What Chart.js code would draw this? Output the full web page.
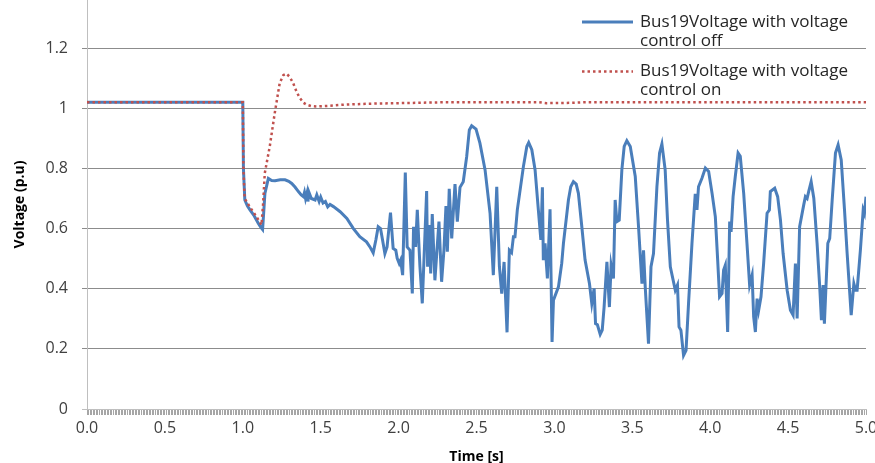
<!DOCTYPE html>
<html>
<head>
<meta charset="utf-8">
<script src="https://cdn.jsdelivr.net/npm/chart.js@4.4.1/dist/chart.umd.min.js"></script>
<style>
    html, body { margin: 0; padding: 0; background: #fff; }
    #wrap { width: 875px; height: 463px; }
</style>
</head>
<body>
<div id="wrap"><canvas id="voltageChart" width="875" height="463"></canvas></div>
<script>
// [time s, voltage p.u]
const offSeries = [
    [0, 1.02], [1.0, 1.02], [1.004, 0.80], [1.013, 0.695], [1.03, 0.675], [1.046, 0.662], [1.07, 0.645],
    [1.10, 0.617], [1.115, 0.605], [1.127, 0.597], [1.135, 0.66], [1.142, 0.717], [1.164, 0.767],
    [1.185, 0.76], [1.207, 0.759], [1.24, 0.762], [1.271, 0.762], [1.295, 0.757], [1.314, 0.75],
    [1.335, 0.738], [1.357, 0.723], [1.375, 0.712], [1.389, 0.706], [1.396, 0.72], [1.403, 0.70],
    [1.413, 0.72], [1.418, 0.69], [1.425, 0.72], [1.44, 0.70], [1.464, 0.695], [1.475, 0.712],
    [1.49, 0.69], [1.50, 0.705], [1.515, 0.685], [1.53, 0.69], [1.545, 0.672], [1.56, 0.68],
    [1.582, 0.673], [1.625, 0.656], [1.668, 0.634], [1.71, 0.60], [1.751, 0.573], [1.794, 0.556],
    [1.816, 0.539], [1.837, 0.519], [1.854, 0.562], [1.869, 0.606], [1.884, 0.60], [1.897, 0.562],
    [1.912, 0.517], [1.926, 0.539], [1.948, 0.653], [1.965, 0.534], [1.982, 0.528], [1.991, 0.501],
    [2.004, 0.484], [2.013, 0.495], [2.026, 0.445], [2.043, 0.786], [2.055, 0.539], [2.073, 0.528],
    [2.088, 0.384], [2.096, 0.606], [2.109, 0.539], [2.12, 0.662], [2.137, 0.473], [2.152, 0.351],
    [2.18, 0.725], [2.186, 0.473], [2.197, 0.612], [2.206, 0.451], [2.216, 0.648], [2.233, 0.428],
    [2.259, 0.623], [2.276, 0.423], [2.291, 0.528], [2.304, 0.675], [2.313, 0.523], [2.325, 0.732],
    [2.341, 0.567], [2.362, 0.748], [2.377, 0.623], [2.394, 0.737], [2.415, 0.756], [2.437, 0.839],
    [2.454, 0.928], [2.469, 0.942], [2.497, 0.931], [2.522, 0.884], [2.555, 0.795], [2.587, 0.651],
    [2.608, 0.445], [2.63, 0.739], [2.647, 0.473], [2.662, 0.384], [2.677, 0.489], [2.696, 0.255],
    [2.711, 0.528], [2.725, 0.52], [2.737, 0.573], [2.747, 0.573], [2.762, 0.662], [2.801, 0.806],
    [2.823, 0.873], [2.835, 0.886], [2.855, 0.862], [2.876, 0.795], [2.897, 0.662], [2.913, 0.562],
    [2.923, 0.737], [2.929, 0.495], [2.94, 0.551], [2.955, 0.434], [2.972, 0.664], [2.985, 0.223],
    [2.994, 0.362], [3.026, 0.406], [3.047, 0.484], [3.058, 0.551], [3.09, 0.695], [3.105, 0.739],
    [3.122, 0.756], [3.14, 0.748], [3.154, 0.717], [3.176, 0.606], [3.197, 0.495], [3.225, 0.417],
    [3.24, 0.351], [3.255, 0.401], [3.264, 0.284], [3.276, 0.28], [3.294, 0.248], [3.307, 0.262],
    [3.319, 0.339], [3.337, 0.489], [3.353, 0.339], [3.364, 0.478], [3.379, 0.434], [3.39, 0.695],
    [3.401, 0.623], [3.416, 0.628], [3.433, 0.795], [3.448, 0.873], [3.465, 0.892], [3.487, 0.873],
    [3.519, 0.773], [3.54, 0.606], [3.562, 0.417], [3.572, 0.528], [3.583, 0.406], [3.604, 0.217],
    [3.62, 0.473], [3.636, 0.517], [3.658, 0.739], [3.675, 0.851], [3.69, 0.881], [3.711, 0.795],
    [3.726, 0.628], [3.744, 0.473], [3.776, 0.395], [3.79, 0.412], [3.8, 0.273], [3.812, 0.262],
    [3.829, 0.178], [3.845, 0.195], [3.861, 0.351], [3.883, 0.551], [3.904, 0.715], [3.915, 0.662],
    [3.925, 0.739], [3.947, 0.767], [3.969, 0.801], [3.99, 0.79], [4.012, 0.717], [4.033, 0.639],
    [4.048, 0.495], [4.06, 0.373], [4.076, 0.384], [4.086, 0.462], [4.097, 0.478], [4.112, 0.256],
    [4.125, 0.623], [4.134, 0.589], [4.147, 0.706], [4.161, 0.773], [4.179, 0.851], [4.193, 0.84],
    [4.215, 0.717], [4.236, 0.551], [4.253, 0.412], [4.269, 0.445], [4.279, 0.306], [4.29, 0.256],
    [4.301, 0.367], [4.311, 0.328], [4.326, 0.373], [4.343, 0.484], [4.365, 0.651], [4.38, 0.662],
    [4.386, 0.723], [4.414, 0.734], [4.433, 0.706], [4.451, 0.628], [4.468, 0.517], [4.494, 0.395],
    [4.515, 0.328], [4.532, 0.312], [4.547, 0.484], [4.558, 0.301], [4.574, 0.606], [4.6, 0.678],
    [4.611, 0.706], [4.622, 0.70], [4.632, 0.723], [4.648, 0.756], [4.665, 0.701], [4.686, 0.551],
    [4.703, 0.406], [4.714, 0.295], [4.725, 0.412], [4.733, 0.284], [4.755, 0.551], [4.767, 0.567],
    [4.783, 0.695], [4.804, 0.851], [4.821, 0.878], [4.841, 0.828], [4.862, 0.662], [4.879, 0.517],
    [4.905, 0.312], [4.922, 0.417], [4.933, 0.395], [4.943, 0.395], [4.964, 0.528], [4.982, 0.662],
    [4.99, 0.65], [5.0, 0.706]
];

const onSeries = [
    [0, 1.02], [1.0, 1.02], [1.004, 0.80], [1.012, 0.70], [1.044, 0.673], [1.087, 0.64], [1.12, 0.612],
    [1.13, 0.68], [1.141, 0.784], [1.173, 0.873], [1.205, 0.984], [1.237, 1.084], [1.26, 1.11],
    [1.28, 1.115], [1.30, 1.105], [1.323, 1.084], [1.345, 1.055], [1.366, 1.034], [1.39, 1.018],
    [1.409, 1.012], [1.44, 1.007], [1.473, 1.006], [1.55, 1.008], [1.65, 1.012], [1.8, 1.015],
    [2.0, 1.017], [2.3, 1.02], [2.9, 1.02], [2.95, 1.017], [3.1, 1.018], [3.2, 1.02], [5.0, 1.02]
];

const seriesLabels = ['Bus19Voltage with voltage control off', 'Bus19Voltage with voltage control on'];
const yTicks = [0, 0.2, 0.4, 0.6, 0.8, 1, 1.2];
const yTickLabels = ['0', '0.2', '0.4', '0.6', '0.8', '1', '1.2'];
const xTickLabels = ['0.0', '0.5', '1.0', '1.5', '2.0', '2.5', '3.0', '3.5', '4.0', '4.5', '5.0'];
const xMinorStep = 0.01;

const toPoints = rows => rows.map(([x, y]) => ({ x, y }));

function wrapText(ctx, text, maxWidth) {
    const lines = [];
    let line = '';
    text.split(' ').forEach(word => {
        const test = line ? line + ' ' + word : word;
        if (ctx.measureText(test).width > maxWidth && line) {
            lines.push(line);
            line = word;
        } else {
            line = test;
        }
    });
    lines.push(line);
    return lines;
}

// legend sits inside the plot, labels wrap to two lines
const wrappedLegend = {
    id: 'wrappedLegend',
    afterDraw(chart) {
        const ctx = chart.ctx;
        ctx.save();
        ctx.font = '17px "Open Sans"';
        ctx.textBaseline = 'middle';
        chart.data.datasets.forEach((ds, i) => {
            const y = 22 + i * 49.5;
            ctx.strokeStyle = ds.borderColor;
            ctx.lineWidth = ds.borderWidth;
            ctx.setLineDash(ds.borderDash || []);
            ctx.beginPath();
            ctx.moveTo(582, y);
            ctx.lineTo(633, y);
            ctx.stroke();
            ctx.setLineDash([]);
            ctx.fillStyle = '#262626';
            wrapText(ctx, ds.label, 222).forEach((line, j) => ctx.fillText(line, 640, y + j * 19));
        });
        ctx.restore();
    }
};

new Chart(document.getElementById('voltageChart'), {
    type: 'line',
    data: {
        datasets: [{
            label: seriesLabels[0],
            data: toPoints(offSeries),
            borderColor: '#4a7ebb',
            borderWidth: 3,
            pointRadius: 0,
            tension: 0,
            order: 1
        }, {
            label: seriesLabels[1],
            data: toPoints(onSeries),
            borderColor: '#c0504d',
            borderWidth: 2.5,
            borderDash: [2.5, 3],
            pointRadius: 0,
            tension: 0,
            order: 0
        }]
    },
    options: {
        responsive: false,
        animation: false,
        devicePixelRatio: 1,
        layout: { padding: { top: 0, right: 9, left: 0, bottom: 0 } },
        plugins: {
            legend: { display: false },
            tooltip: { enabled: false }
        },
        scales: {
            x: {
                type: 'linear',
                min: 0,
                max: 5,
                afterBuildTicks: axis => {
                    const n = Math.round(5 / xMinorStep);
                    axis.ticks = Array.from({ length: n + 1 }, (_, i) => ({ value: i * xMinorStep }));
                },
                afterFit: axis => {
                    axis.height = 54;
                    axis.paddingLeft = 0;
                    axis.paddingRight = 0;
                },
                ticks: {
                    autoSkip: false,
                    maxRotation: 0,
                    minRotation: 0,
                    padding: 4,
                    color: '#404040',
                    font: { family: 'Open Sans', size: 16 },
                    callback: value => {
                        const k = Math.round(value / xMinorStep);
                        return k % 50 === 0 ? xTickLabels[k / 50] : '';
                    }
                },
                grid: {
                    drawOnChartArea: false,
                    drawTicks: true,
                    tickLength: 6,
                    tickColor: '#a6a6a6'
                },
                border: { color: '#bfbfbf' },
                title: {
                    display: true,
                    text: 'Time [s]',
                    color: '#000',
                    font: { family: 'Open Sans', size: 14, weight: 'bold', lineHeight: 0.86 },
                    padding: { top: 0, bottom: 0 }
                }
            },
            y: {
                min: 0,
                max: 1.36,
                afterBuildTicks: axis => {
                    axis.ticks = yTicks.map(v => ({ value: v }));
                },
                afterFit: axis => {
                    axis.width = 87;
                    axis.paddingTop = 0;
                    axis.paddingBottom = 0;
                },
                ticks: {
                    padding: 14,
                    color: '#404040',
                    font: { family: 'Open Sans', size: 16 },
                    callback: (value, i) => yTickLabels[i]
                },
                grid: {
                    color: ctx => (ctx.tick && ctx.tick.value === 0) ? '#bfbfbf' : '#8c8c8c',
                    tickLength: 5
                },
                border: { color: '#bfbfbf' },
                title: {
                    display: true,
                    text: 'Voltage (p.u)',
                    color: '#000',
                    font: { family: 'Open Sans', size: 14, weight: 'bold' },
                    padding: { top: 12, bottom: 0 }
                }
            }
        }
    },
    plugins: [wrappedLegend]
});
</script>
</body>
</html>
